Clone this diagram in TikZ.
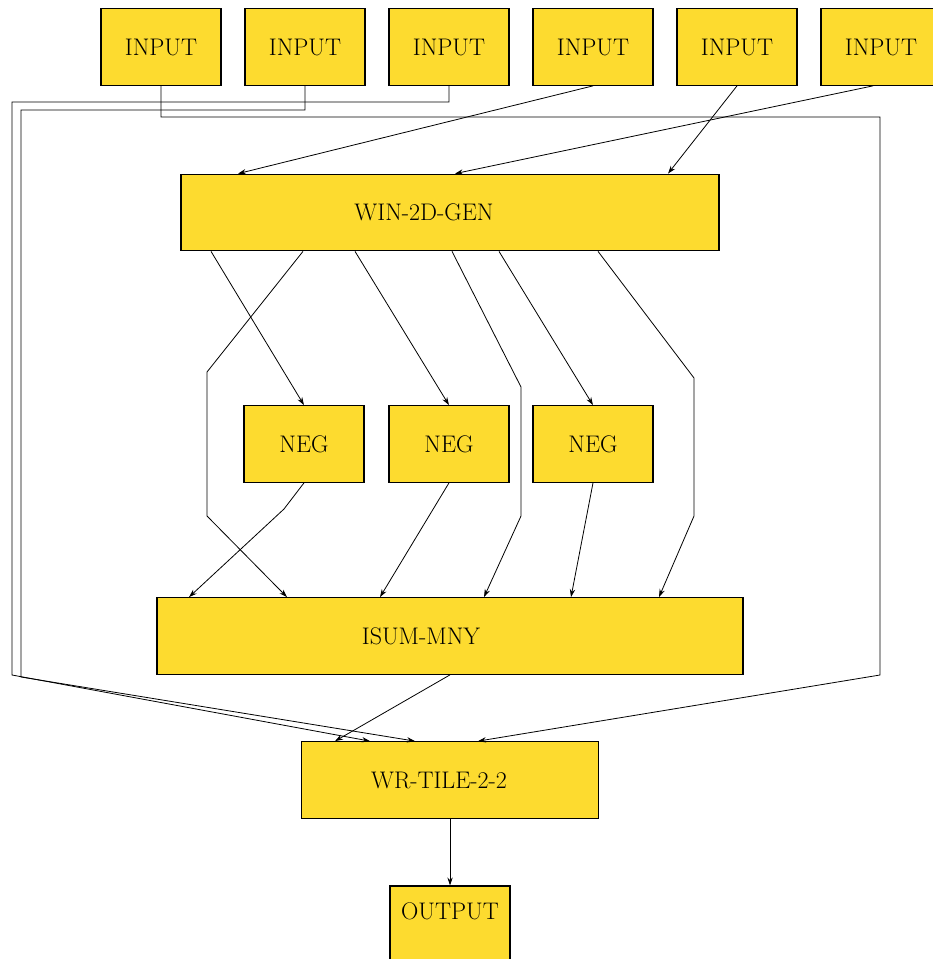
\documentclass[tikz,border=0pt]{standalone}
\usepackage{tikz}
\usetikzlibrary{arrows.meta,calc}
\definecolor{boxyellow}{RGB}{253,219,47}

\begin{document}
\begin{tikzpicture}[x=0.75pt,y=-0.75pt,
    box/.style={draw,line width=0.8pt,fill=boxyellow,minimum width=90pt,minimum height=57.5pt,
                inner sep=0pt,font=\fontsize{18}{21}\selectfont},
    edge/.style={line width=0.6pt,-{Stealth[length=6pt,width=4pt]}}]
\useasboundingbox (0,0) rectangle (932,959);
% inputs
\foreach \n/\x in {1/161,2/305,3/449,4/593,5/737,6/881}
    \node[box] (in\n) at (\x,47) {INPUT};
\node[box,minimum width=403.5pt] (win) at (450,212.5) {WIN-2D-GEN\hspace*{39pt}};
\foreach \n/\x in {1/304,2/449,3/593}
    \node[box] (neg\n) at (\x,444) {NEG};
\node[box,minimum width=439.5pt] (sum) at (450,636) {ISUM-MNY\hspace*{43.5pt}};
\node[box,minimum width=222.75pt] (wr) at (450,780) {WR-TILE-2-2\hspace*{16.5pt}};
\node[box,minimum height=57pt,text depth=20pt] (out) at (450,924) {OUTPUT};
% routed lines round the sides
\coordinate (rtop) at (880,117);
\coordinate (rbot) at (880,675);
\coordinate (ltopa) at (21,110);
\coordinate (lbota) at (21,677);
\coordinate (ltopb) at (12,102);
\coordinate (lbotb) at (12,675);
\draw[edge] (in1.south) |- (rtop) -- (rbot) -- ($(wr.north)+(28,0)$);
\draw[edge] (in2.south) |- (ltopa) -- (lbota) -- ($(wr.north)+(-35,0)$);
\draw[edge] (in3.south) |- (ltopb) -- (lbotb) -- ($(wr.north)+(-80,0)$);
% into the generator
\draw[edge] (in4.south) -- ($(win.north)+(-212,0)$);
\draw[edge] (in5.south) -- ($(win.north)+(218,0)$);
\draw[edge] ($(in6.south)+(-8,0)$) -- ($(win.north)+(5,0)$);
% generator to neg and sum
\draw[edge] ($(win.south)+(-239,0)$) -- (neg1.north);
\draw[edge] ($(win.south)+(-95,0)$) -- (neg2.north);
\draw[edge] ($(win.south)+(49,0)$) -- (neg3.north);
\draw[edge] ($(win.south)+(-147,0)$) -- (207,372) -- (207,516) -- ($(sum.north)+(-163,0)$);
\draw[edge] ($(win.south)+(2,0)$) -- (521,387) -- (521,516) -- ($(sum.north)+(34,0)$);
\draw[edge] ($(win.south)+(148,0)$) -- (694,378) -- (694,516) -- ($(sum.north)+(209,0)$);
\draw[edge] (neg1.south) -- (284,509) -- ($(sum.north)+(-261,0)$);
\draw[edge] (neg2.south) -- ($(sum.north)+(-70,0)$);
\draw[edge] (neg3.south) -- ($(sum.north)+(121,0)$);
% to output
\draw[edge] (sum.south) -- ($(wr.north)+(-115,0)$);
\draw[edge] (wr.south) -- (out.north);
\end{tikzpicture}
\end{document}
